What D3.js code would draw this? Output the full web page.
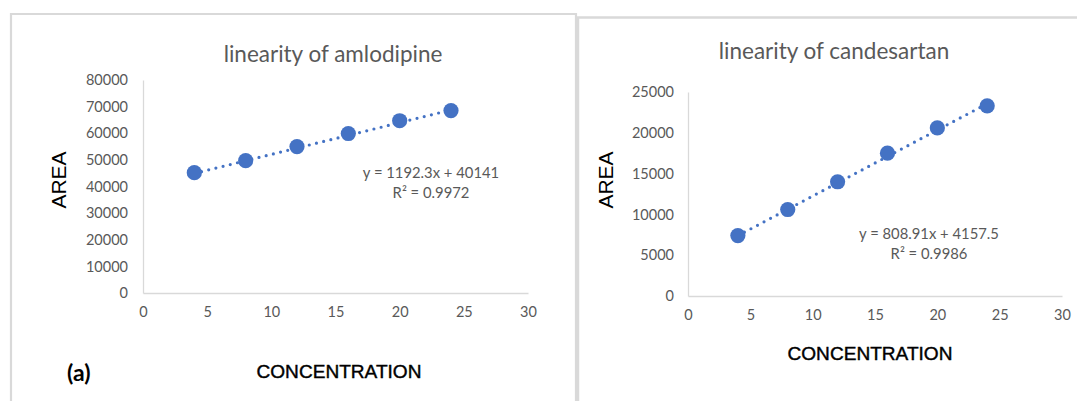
<!DOCTYPE html>
<html>
<head>
<meta charset="utf-8">
<script src="https://cdn.jsdelivr.net/npm/d3@7"></script>
<style>
  html, body { margin: 0; padding: 0; background: #fff; }
  svg { display: block; }
</style>
</head>
<body>
<svg id="chart" width="1077" height="401"></svg>
<script>
// ---------- data ----------
const concentrations = [4, 8, 12, 16, 20, 24];
const amlodipineArea = [45200, 49700, 55000, 59900, 64700, 68500];
const candesartanArea = [7400, 10600, 14000, 17500, 20600, 23300];
const amlodipineFit = { slope: 1192.3, intercept: 40141 };
const candesartanFit = { slope: 808.91, intercept: 4157.5 };
const amlodipineEq = ["y = 1192.3x + 40141", "R² = 0.9972"];
const candesartanEq = ["y = 808.91x + 4157.5", "R² = 0.9986"];
const xTicks = [0, 5, 10, 15, 20, 25, 30];
const amlodipineYTicks = [0, 10000, 20000, 30000, 40000, 50000, 60000, 70000, 80000];
const candesartanYTicks = [0, 5000, 10000, 15000, 20000, 25000];
const titles = ["linearity of amlodipine", "linearity of candesartan"];
const xLabel = "CONCENTRATION";
const yLabel = "AREA";
const panelTag = "(a)";

const svg = d3.select("#chart");
const BLUE = "#4472C4";
const GRID = "#d9d9d9";
const TXT = "#595959";
const calibri = "Lato, 'Open Sans', sans-serif";
const arial = "'Liberation Sans', Arial, sans-serif";

// panel borders
svg.append("path").attr("d", "M11,401 V14 H576 V401")
  .attr("fill", "none").attr("stroke", GRID).attr("stroke-width", 2.2);
svg.append("path").attr("d", "M578,401 V17.5 H1077")
  .attr("fill", "none").attr("stroke", GRID).attr("stroke-width", 2.5);

function drawPanel(cfg) {
  const g = svg.append("g");
  const x = d3.scaleLinear().domain([0, 30]).range([cfg.x0, cfg.x1]);
  const y = d3.scaleLinear().domain([0, cfg.yMax]).range([cfg.y0, cfg.y1]);

  // x axis
  const xa = g.append("g").attr("transform", `translate(0,${cfg.y0})`)
    .call(d3.axisBottom(x).tickValues(xTicks).tickSize(0).tickPadding(14).tickFormat(d3.format("d")));
  xa.select(".domain").attr("stroke", GRID).attr("stroke-width", 1.3);
  xa.selectAll("text").attr("fill", TXT).style("font-family", calibri).style("font-size", "14.5px");

  // y axis
  const ya = g.append("g").attr("transform", `translate(${cfg.x0},0)`)
    .call(d3.axisLeft(y).tickValues(cfg.yTicks).tickSize(0).tickPadding(cfg.yPad).tickFormat(d3.format("d")));
  ya.select(".domain").attr("stroke", GRID).attr("stroke-width", 1.3);
  ya.selectAll("text").attr("fill", TXT).style("font-family", calibri).style("font-size", "14.5px");

  // trend line
  const xs = [concentrations[0], concentrations[concentrations.length - 1]];
  g.append("line")
    .attr("x1", x(xs[0])).attr("y1", y(cfg.fit.slope * xs[0] + cfg.fit.intercept))
    .attr("x2", x(xs[1])).attr("y2", y(cfg.fit.slope * xs[1] + cfg.fit.intercept))
    .attr("stroke", BLUE).attr("stroke-width", 3.2)
    .attr("stroke-linecap", "round").attr("stroke-dasharray", "0 7.4");

  // markers
  g.selectAll("circle.pt").data(concentrations.map((c, i) => [c, cfg.values[i]]))
    .enter().append("circle").attr("class", "pt")
    .attr("cx", d => x(d[0])).attr("cy", d => y(d[1])).attr("r", 7.6)
    .attr("fill", BLUE);

  // title
  g.append("text").attr("x", cfg.titleX).attr("y", cfg.titleY)
    .attr("text-anchor", "middle").attr("fill", TXT)
    .style("font-family", calibri).style("font-size", "22.5px").text(cfg.title);

  // equation
  cfg.eq.forEach((t, i) => {
    g.append("text").attr("x", cfg.eqX).attr("y", cfg.eqY + i * 20)
      .attr("text-anchor", "middle").attr("fill", TXT)
      .style("font-family", calibri).style("font-size", "14.8px").text(t);
  });

  // axis titles
  g.append("text").attr("transform", `translate(${cfg.yLabX},${cfg.yLabY}) rotate(-90)`)
    .attr("text-anchor", "middle").attr("fill", "#000")
    .style("font-family", arial).style("font-size", "21px").text(yLabel);
  g.append("text").attr("x", cfg.xLabX).attr("y", cfg.xLabY)
    .attr("text-anchor", "middle").attr("fill", "#000")
    .attr("stroke", "#000").attr("stroke-width", 0.4)
    .attr("textLength", 165).attr("lengthAdjust", "spacingAndGlyphs")
    .style("font-family", arial).style("font-size", "18px").text(xLabel);
}

drawPanel({
  x0: 143, x1: 528, y0: 293, y1: 80, yMax: 80000, yTicks: amlodipineYTicks, yPad: 15,
  values: amlodipineArea, fit: amlodipineFit, eq: amlodipineEq,
  title: titles[0], titleX: 333, titleY: 62,
  eqX: 431, eqY: 178, yLabX: 66, yLabY: 180, xLabX: 339, xLabY: 378
});
drawPanel({
  x0: 688, x1: 1062, y0: 296, y1: 92, yMax: 25000, yTicks: candesartanYTicks, yPad: 14,
  values: candesartanArea, fit: candesartanFit, eq: candesartanEq,
  title: titles[1], titleX: 834, titleY: 59,
  eqX: 929, eqY: 239, yLabX: 613, yLabY: 180, xLabX: 870, xLabY: 360
});

// panel tag
svg.append("text").attr("x", 67).attr("y", 381).attr("fill", "#000")
  .style("font-family", calibri).style("font-weight", "bold").style("font-size", "23px")
  .text(panelTag);
</script>
</body>
</html>
